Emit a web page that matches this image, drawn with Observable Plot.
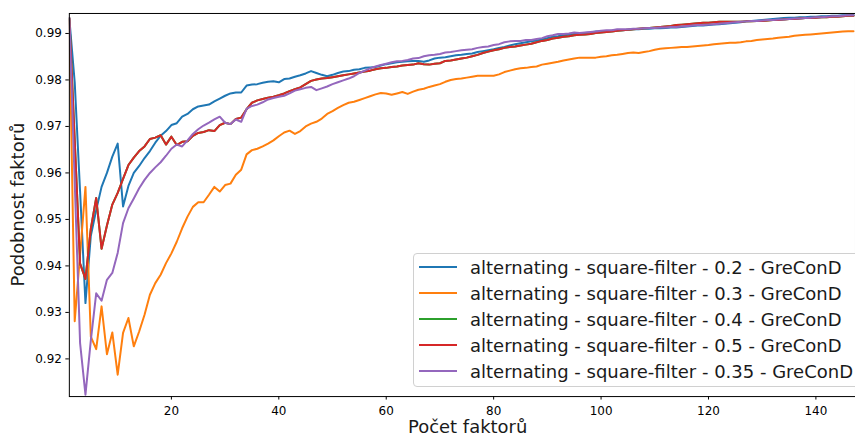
<!DOCTYPE html>
<html><head><meta charset="utf-8">
<script src="https://cdn.jsdelivr.net/npm/d3@7"></script>
<script src="https://cdn.jsdelivr.net/npm/@observablehq/plot@0.6"></script>
<style>
html,body{margin:0;padding:0;background:#fff;overflow:hidden;}
#wrap{position:relative;width:855px;height:438px;overflow:hidden;font-family:"DejaVu Sans",sans-serif;}
#legend{position:absolute;left:413px;top:253px;width:470px;height:134px;border:1px solid #d0d0d0;border-radius:4px;background:rgba(255,255,255,0.8);box-sizing:border-box;}
.row{height:26px;display:flex;align-items:center;font-size:18px;color:#1a1a1a;white-space:nowrap;}
.sw{width:38px;height:2px;margin-left:5px;margin-right:13px;flex:none;}
</style></head>
<body><div id="wrap"></div>
<script>
const seriesNames = [
  "alternating - square-filter - 0.2 - GreConD",
  "alternating - square-filter - 0.3 - GreConD",
  "alternating - square-filter - 0.4 - GreConD",
  "alternating - square-filter - 0.5 - GreConD",
  "alternating - square-filter - 0.35 - GreConD"
];
const seriesColors = ["#1f77b4", "#ff7f0e", "#2ca02c", "#d62728", "#9467bd"];
const xTicks = [20, 40, 60, 80, 100, 120, 140];
const yTicks = [0.92, 0.93, 0.94, 0.95, 0.96, 0.97, 0.98, 0.99];
const xLabel = "Počet faktorů";
const yLabel = "Podobnost faktorů";

const s02 = [0.9932,0.9795,0.956,0.932,0.9465,0.952,0.957,0.96,0.9635,0.9663,
 0.9528,0.9572,0.96,0.9615,0.9632,0.9647,0.9665,0.968,0.969,0.9703,
 0.9707,0.9721,0.9727,0.9737,0.9743,0.9745,0.9747,0.9754,0.976,0.9766,
 0.9771,0.9773,0.9773,0.9788,0.979,0.9791,0.9794,0.9796,0.9797,0.9795,
 0.9802,0.9803,0.9807,0.981,0.9814,0.9819,0.9815,0.9811,0.9808,0.9811,
 0.9815,0.9818,0.9819,0.9822,0.9823,0.9826,0.9827,0.9828,0.9831,0.9834,
 0.9836,0.9838,0.9839,0.984,0.9841,0.9841,0.9839,0.9842,0.9846,0.9848,
 0.9849,0.9851,0.9853,0.9854,0.9856,0.9857,0.986,0.9862,0.9864,0.9866,
 0.9869,0.9871,0.9874,0.9877,0.9879,0.9881,0.9883,0.9885,0.9887,0.989,
 0.9893,0.9894,0.9896,0.9897,0.9899,0.99,0.9901,0.9902,0.9904,0.9904,
 0.9905,0.9906,0.9907,0.9907,0.9908,0.9909,0.9909,0.991,0.991,0.9911,
 0.9911,0.9912,0.9913,0.9913,0.9914,0.9915,0.9916,0.9917,0.9917,0.9918,
 0.9919,0.992,0.9921,0.9922,0.9923,0.9924,0.9926,0.9927,0.9928,0.9929,
 0.993,0.9931,0.9932,0.9933,0.9934,0.9934,0.9935,0.9935,0.9936,0.9936,
 0.9937,0.9937,0.9938,0.9938,0.9939,0.9939,0.994];

const s03 = [0.993,0.9281,0.9425,0.957,0.9248,0.9221,0.9313,0.921,0.9257,0.9166,
 0.9256,0.9288,0.9227,0.9259,0.9295,0.9338,0.9363,0.9381,0.9406,0.9427,
 0.9452,0.9481,0.9506,0.9527,0.9537,0.9537,0.9553,0.957,0.956,0.9574,
 0.9577,0.9596,0.9607,0.964,0.9649,0.9652,0.9657,0.9663,0.967,0.9679,
 0.9687,0.9691,0.9684,0.969,0.97,0.9706,0.971,0.9717,0.9727,0.9733,
 0.974,0.9746,0.9751,0.9753,0.9757,0.9761,0.9765,0.9769,0.9772,0.9771,
 0.9768,0.9771,0.9774,0.977,0.9775,0.9779,0.9781,0.9785,0.9788,0.9791,
 0.9796,0.98,0.9802,0.9803,0.9805,0.9807,0.9809,0.9809,0.9809,0.9809,
 0.9812,0.9817,0.982,0.9823,0.9825,0.9826,0.9828,0.9829,0.9833,0.9835,
 0.9837,0.9839,0.9842,0.9844,0.9846,0.9848,0.9848,0.9848,0.9848,0.985,
 0.9851,0.9853,0.9854,0.9856,0.9858,0.9859,0.9858,0.986,0.9862,0.9865,
 0.9867,0.9868,0.9869,0.987,0.9871,0.9871,0.9872,0.9873,0.9874,0.9875,
 0.9877,0.9878,0.9879,0.988,0.988,0.9881,0.9883,0.9884,0.9886,0.9887,
 0.9888,0.9889,0.9891,0.9892,0.9893,0.9895,0.9896,0.9897,0.9898,0.9899,
 0.99,0.9901,0.9902,0.9903,0.9904,0.9905,0.9905];

const s05 = [0.9933,0.967,0.9405,0.9372,0.948,0.9546,0.9437,0.9487,0.9532,0.9557,
 0.9587,0.9617,0.9633,0.9647,0.9657,0.9673,0.9676,0.9681,0.9661,0.9678,
 0.966,0.9667,0.9668,0.968,0.9686,0.9688,0.9692,0.969,0.9703,0.9708,
 0.9705,0.9716,0.9719,0.9737,0.9751,0.9756,0.9759,0.9762,0.9764,0.9767,
 0.9771,0.9776,0.978,0.9784,0.9791,0.9798,0.9801,0.9803,0.9804,0.9806,
 0.9808,0.981,0.9812,0.9814,0.9816,0.9818,0.982,0.9823,0.9825,0.9826,
 0.9828,0.9829,0.9831,0.9832,0.9833,0.9836,0.9834,0.9833,0.9835,0.9836,
 0.9841,0.9842,0.9844,0.9846,0.9848,0.9851,0.9854,0.9858,0.9861,0.9864,
 0.9866,0.9869,0.9871,0.9872,0.9874,0.9876,0.9878,0.9881,0.9884,0.9886,
 0.9889,0.9891,0.9893,0.9894,0.9896,0.9897,0.9898,0.9899,0.9901,0.9902,
 0.9903,0.9904,0.9906,0.9907,0.9908,0.9909,0.991,0.9911,0.9912,0.9913,
 0.9914,0.9915,0.9916,0.9918,0.9919,0.992,0.9921,0.9922,0.9923,0.9923,
 0.9924,0.9925,0.9925,0.9925,0.9925,0.9925,0.9926,0.9926,0.9927,0.9927,
 0.9928,0.9929,0.9929,0.993,0.9931,0.9931,0.9932,0.9933,0.9933,0.9934,
 0.9935,0.9935,0.9936,0.9936,0.9937,0.9938,0.9938];

// the 0.4 series lies exactly underneath the 0.5 series in the picture
const s04 = [...s05];

const s035 = [0.9933,0.958,0.9234,0.9123,0.924,0.9341,0.9325,0.937,0.9385,0.9428,
 0.9492,0.9524,0.9545,0.9567,0.9585,0.96,0.9612,0.9623,0.9637,0.9652,
 0.9661,0.9657,0.967,0.9684,0.9694,0.9702,0.9708,0.9715,0.9721,0.9708,
 0.9705,0.9715,0.971,0.9738,0.9744,0.9747,0.9752,0.9758,0.9761,0.9764,
 0.9766,0.9771,0.9777,0.978,0.9783,0.9785,0.9778,0.9782,0.9786,0.9791,
 0.9795,0.9799,0.9803,0.9808,0.9815,0.982,0.9825,0.9829,0.9832,0.9835,
 0.9838,0.984,0.9841,0.9843,0.9846,0.9847,0.9851,0.9853,0.9854,0.9856,
 0.9859,0.986,0.9862,0.9864,0.9865,0.9866,0.9869,0.9871,0.9872,0.9875,
 0.9877,0.9881,0.9883,0.9884,0.9884,0.9886,0.9886,0.9888,0.989,0.9894,
 0.9896,0.9899,0.9899,0.99,0.9902,0.9901,0.9902,0.9903,0.9904,0.9906,
 0.9907,0.9907,0.9909,0.9909,0.9909,0.991,0.991,0.9911,0.9912,0.9912,
 0.9913,0.9913,0.9914,0.9914,0.9915,0.9916,0.9917,0.9918,0.9918,0.9919,
 0.992,0.9921,0.9922,0.9923,0.9924,0.9925,0.9926,0.9927,0.9927,0.9928,
 0.9929,0.9929,0.993,0.993,0.9931,0.9932,0.9932,0.9933,0.9934,0.9935,
 0.9935,0.9936,0.9937,0.9937,0.9938,0.9939,0.9939];

const seriesValues = [s02, s03, s04, s05, s035];

const rows = [];
seriesValues.forEach((vals, k) => {
  vals.forEach((v, i) => rows.push({x: i + 1, y: v, s: seriesNames[k]}));
});

const chart = Plot.plot({
  width: 857, height: 438,
  marginLeft: 69, marginRight: 0, marginTop: 13, marginBottom: 41,
  style: {fontFamily: "DejaVu Sans", fontSize: "12px", color: "#000", background: "transparent"},
  x: {domain: [1, 147.37]},
  y: {domain: [0.9119, 0.9943]},
  color: {domain: seriesNames, range: seriesColors},
  marks: [
    Plot.line(rows, {x: "x", y: "y", z: "s", stroke: "s", strokeWidth: 2, clip: true}),
    Plot.frame({stroke: "#000", strokeWidth: 1}),
    Plot.axisX({ticks: xTicks, tickSize: 3.5, tickPadding: 6, tickFormat: d => String(d), fontSize: 12, label: null, stroke: "#000"}),
    Plot.axisY({ticks: yTicks, tickSize: 3.5, tickPadding: 4, tickFormat: d3.format(".2f"), fontSize: 12, label: null, stroke: "#000"})
  ]
});

const svg = d3.select(chart);
svg.append("text").attr("transform", "translate(24,205) rotate(-90)")
  .attr("text-anchor", "middle").attr("font-size", 18).attr("fill", "#1a1a1a")
  .attr("font-family", "DejaVu Sans").text(yLabel);
svg.append("text").attr("x", 409).attr("y", 434.5).attr("text-anchor", "start")
  .attr("font-size", 18).attr("fill", "#1a1a1a")
  .attr("font-family", "DejaVu Sans").text(xLabel);

const wrap = document.getElementById("wrap");
wrap.appendChild(chart);

const legend = document.createElement("div");
legend.id = "legend";
seriesNames.forEach((n, k) => {
  const r = document.createElement("div");
  r.className = "row";
  const sw = document.createElement("div");
  sw.className = "sw";
  sw.style.background = seriesColors[k];
  const t = document.createElement("span");
  t.textContent = n;
  r.appendChild(sw); r.appendChild(t);
  legend.appendChild(r);
});
wrap.appendChild(legend);
</script></body></html>
